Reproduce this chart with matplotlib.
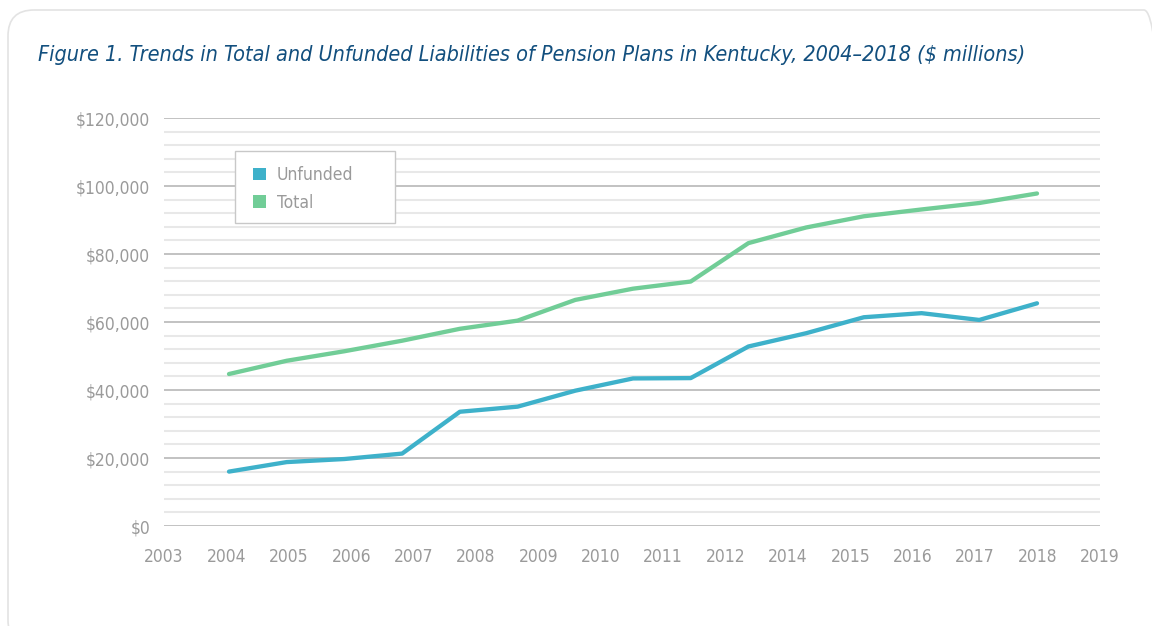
import matplotlib
matplotlib.use("Agg")
import matplotlib.pyplot as plt
from matplotlib.patches import FancyBboxPatch, Patch, Rectangle
from matplotlib.transforms import IdentityTransform
import numpy as np

years = ["2003", "2004", "2005", "2006", "2007", "2008", "2009", "2010", "2011",
         "2012", "2014", "2015", "2016", "2017", "2018", "2019"]
unfunded = [16000, 18800, 19700, 21300, 33600, 35100, 39800, 43400, 43500,
            52800, 56700, 61400, 62600, 60600, 65500]
total = [44700, 48600, 51400, 54500, 58000, 60400, 66500, 69800, 71900,
         83200, 87800, 91100, 93100, 95000, 97800]
series_names = ["Unfunded", "Total"]
colors = ["#3eb1ca", "#71cd97"]

plt.rcParams["font.family"] = ["DejaVu Sans"]
plt.rcParams["font.stretch"] = "condensed"

W, H = 1152, 626
fig = plt.figure(figsize=(W / 100, H / 100), dpi=100)
fig.patch.set_facecolor("white")

# rounded frame (pixel coordinates, origin bottom-left)
frame = FancyBboxPatch((8, -20), 1170 - 8, H - 10 + 20,
                       boxstyle="round,pad=0,rounding_size=26",
                       transform=IdentityTransform(), fill=False,
                       edgecolor="#e3e3e3", linewidth=1.2)
fig.patches.append(frame)

title = fig.text(38 / W, 1 - 55 / H,
                 "Figure 1. Trends in Total and Unfunded Liabilities of Pension Plans in Kentucky, 2004\u20132018 ($ millions)",
                 ha="left", va="center", color="#124f7e", fontsize=17.5, style="italic")
fig.canvas.draw()
r = fig.canvas.get_renderer()
wt = title.get_window_extent(r).width
title.set_fontsize(17.5 * 987 / wt)

left, right, top, bottom = 164, 1100, 118, 526
ax = fig.add_axes([left / W, 1 - bottom / H, (right - left) / W, (bottom - top) / H])

xi = np.arange(len(unfunded))
step = (1037 - 229) / 14.0
x0 = -(229 - left) / step
x1 = (right - 229) / step
ax.set_xlim(x0, x1)
ax.set_ylim(0, 120000)

for v in range(0, 120001, 4000):
    major = v % 20000 == 0
    ax.axhline(v, color="#bdbdbd" if major else "#e8e8e8", lw=1.3 if major else 1.5, zorder=0)

ax.plot(xi, unfunded, color=colors[0], lw=3.1, solid_capstyle="round", solid_joinstyle="round", zorder=3)
ax.plot(xi, total, color=colors[1], lw=3.1, solid_capstyle="round", solid_joinstyle="round", zorder=3)

ax.set_xticks(np.linspace(x0, x1, len(years)))
ax.set_xticklabels(years)
ax.set_yticks(range(0, 120001, 20000))
ax.set_yticklabels(["$" + format(v, ",") for v in range(0, 120001, 20000)])
ax.tick_params(length=0, colors="#9a9a9a", labelsize=12.5)
ax.tick_params(axis="x", pad=16)
ax.tick_params(axis="y", pad=10)
for s in ax.spines.values():
    s.set_visible(False)
ax.set_facecolor("none")

# legend box drawn in pixels
legbox = Rectangle((235, H - 223), 160, 72, transform=IdentityTransform(),
                   facecolor="white", edgecolor="#c8c8c8", linewidth=1.0, zorder=5)
fig.patches.append(legbox)

handles = [Patch(facecolor=c, edgecolor="none") for c in colors]
leg = fig.legend(handles, series_names, loc="upper left",
                 bbox_to_anchor=(253 / W, 1 - 166 / H),
                 frameon=False, fontsize=12.5, handlelength=0.75, handleheight=0.75,
                 handletextpad=0.62, borderpad=0, labelspacing=0.56, borderaxespad=0)
for t in leg.get_texts():
    t.set_color("#9a9a9a")

fig.savefig("out.png", dpi=100)
